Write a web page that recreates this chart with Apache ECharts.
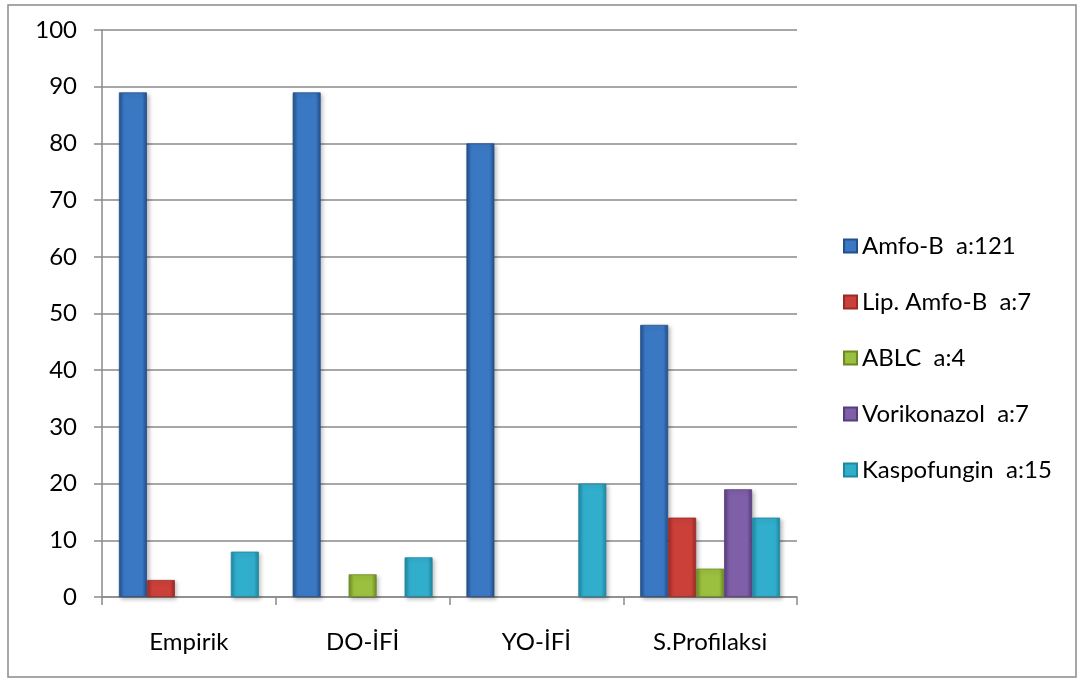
<!DOCTYPE html>
<html>
<head>
<meta charset="utf-8">
<script src="https://cdn.jsdelivr.net/npm/echarts@6/dist/echarts.min.js"></script>
<style>
  html, body { margin: 0; padding: 0; background: #fff; }
  #chart { width: 1084px; height: 684px; }
</style>
</head>
<body>
<div id="chart"></div>
<script>
// Categories and series values
const categories = ['Empirik', 'DO-İFİ', 'YO-İFİ', 'S.Profilaksi'];
const seriesNames = ['Amfo-B  a:121', 'Lip. Amfo-B  a:7', 'ABLC  a:4', 'Vorikonazol  a:7', 'Kaspofungin  a:15'];
const amfoB       = [89, 89, 80, 48];
const lipAmfoB    = [3, null, null, 14];
const ablc        = [null, 4, null, 5];
const vorikonazol = [null, null, null, 19];
const kaspofungin = [8, 7, 20, 14];
const yTicks = { min: 0, max: 100, interval: 10 };

const values = [amfoB, lipAmfoB, ablc, vorikonazol, kaspofungin];
// edge / centre shades for each series
const palette = [
  ['#234f8a', '#3b78c4'],
  ['#9a2a26', '#cc403a'],
  ['#6c8a24', '#9bbf3e'],
  ['#583d7e', '#7f5fa8'],
  ['#1e87a0', '#32aecd']
];

function barFill(p) {
  return new echarts.graphic.LinearGradient(0, 0, 1, 0, [
    { offset: 0, color: p[0] },
    { offset: 0.18, color: p[1] },
    { offset: 0.82, color: p[1] },
    { offset: 1, color: p[0] }
  ]);
}

const chart = echarts.init(document.getElementById('chart'), null, { renderer: 'canvas' });

const font = 'Lato, "Open Sans", "Liberation Sans", sans-serif';

chart.setOption({
  animation: false,
  backgroundColor: '#ffffff',
  textStyle: { fontFamily: font },
  graphic: [{
    type: 'rect',
    shape: { x: 8, y: 5, width: 1068, height: 672 },
    style: { fill: 'none', stroke: '#8a8a8a', lineWidth: 1.5 },
    silent: true,
    z: -10
  }],
  grid: { left: 102, right: 287, top: 30, bottom: 87 },
  legend: {
    orient: 'vertical',
    left: 838,
    top: 229,
    itemGap: 32,
    itemWidth: 13,
    itemHeight: 13,
    icon: 'rect',
    textStyle: { fontSize: 24, color: '#000', fontFamily: font },
    data: seriesNames.map((n, i) => ({ name: n, itemStyle: { color: barFill(palette[i]) } }))
  },
  xAxis: {
    type: 'category',
    data: categories,
    axisLine: { lineStyle: { color: '#8a8a8a', width: 1.5 } },
    axisTick: { show: true, length: 8, alignWithLabel: false, lineStyle: { color: '#8a8a8a', width: 1.5 } },
    axisLabel: { color: '#000', fontSize: 24, margin: 33, fontFamily: font }
  },
  yAxis: {
    type: 'value',
    min: yTicks.min,
    max: yTicks.max,
    interval: yTicks.interval,
    axisLine: { show: true, lineStyle: { color: '#8a8a8a', width: 1.5 } },
    axisTick: { show: true, length: 8, lineStyle: { color: '#8a8a8a', width: 1.5 } },
    axisLabel: { color: '#000', fontSize: 24, margin: 25, fontFamily: font },
    splitLine: { show: true, lineStyle: { color: '#8a8a8a', width: 1.5 } }
  },
  series: seriesNames.map((name, i) => ({
    name: name,
    type: 'bar',
    data: values[i],
    barGap: '0%',
    barCategoryGap: '19.5%',
    itemStyle: {
      color: barFill(palette[i]),
      borderColor: palette[i][0],
      borderWidth: 0.8,
      shadowColor: 'rgba(0,0,0,0.25)',
      shadowBlur: 4,
      shadowOffsetX: 2,
      shadowOffsetY: 2
    }
  }))
});
</script>
</body>
</html>
